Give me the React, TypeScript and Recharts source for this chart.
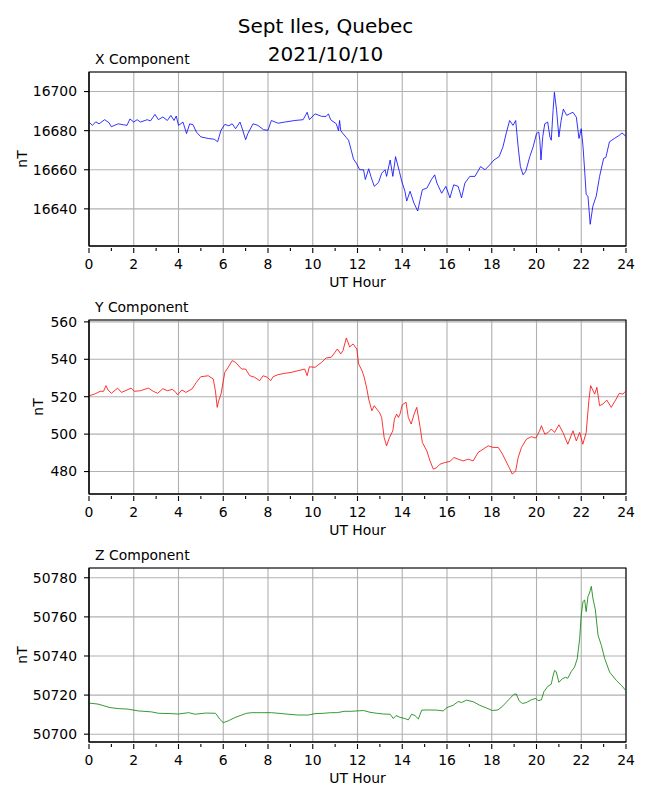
import React from 'react'
import { LineChart, Line, XAxis, YAxis, CartesianGrid, ReferenceArea } from 'recharts'

// X component (nT) vs UT hour
const xHours = [
  0, 0.15, 0.3, 0.45, 0.7, 0.9, 1.0, 1.3, 1.55, 1.7, 1.83, 2.0, 2.15, 2.3, 2.6, 2.75, 2.95, 3.1, 3.3, 3.5,
  3.66, 3.8, 3.9, 4.0, 4.2, 4.36, 4.5, 4.65, 4.8, 5.0, 5.33, 5.6, 5.75, 5.9, 6.07, 6.25, 6.4, 6.55, 6.75, 6.85,
  7.0, 7.1, 7.33, 7.55, 7.8, 8.0, 8.15, 8.45, 8.75, 9.2, 9.57, 9.75, 9.85, 10.1, 10.4, 10.6, 10.7, 10.8, 11.05, 11.15,
  11.2, 11.25, 11.35, 11.5, 11.6, 11.72, 11.82, 11.95, 12.1, 12.27, 12.35, 12.5, 12.6, 12.75, 12.94, 13.08, 13.23, 13.3, 13.46, 13.58,
  13.7, 13.87, 13.98, 14.12, 14.2, 14.35, 14.52, 14.69, 14.8, 14.9, 15.1, 15.3, 15.45, 15.55, 15.76, 15.95, 16.13, 16.3, 16.5, 16.65,
  16.8, 17.02, 17.25, 17.5, 17.7, 17.91, 18.1, 18.33, 18.5, 18.66, 18.8, 18.95, 19.07, 19.18, 19.28, 19.4, 19.52, 19.7, 19.85, 20.0,
  20.1, 20.15, 20.2, 20.28, 20.37, 20.5, 20.6, 20.66, 20.74, 20.8, 20.9, 21.0, 21.1, 21.2, 21.35, 21.48, 21.63, 21.78, 21.9, 22.0,
  22.08, 22.15, 22.22, 22.3, 22.4, 22.52, 22.67, 22.82, 23.0, 23.1, 23.26, 23.48, 23.7, 23.82, 24.0
]
const xValues = [
  16684.4, 16682.7, 16684.5, 16683.5, 16685.6, 16684, 16682, 16683.5, 16683, 16682.7, 16686, 16684.4, 16685.6, 16684.4, 16685.6, 16685, 16688.3, 16685.6, 16687, 16685.2,
  16687.8, 16685.2, 16687.5, 16682.7, 16684.4, 16678.5, 16683.5, 16683, 16679.3, 16676.8, 16676, 16675.6, 16674.3, 16680.2, 16683.2, 16682.5, 16683.5, 16681, 16684.4, 16681,
  16675.4, 16678.5, 16683.5, 16682.7, 16680.5, 16680.2, 16685.2, 16683.8, 16684.4, 16685.2, 16685.6, 16689.4, 16685.6, 16688.6, 16687.3, 16687.3, 16688.6, 16685.6, 16683.5, 16680,
  16685.2, 16680, 16678.5, 16676.5, 16675.1, 16670, 16665.5, 16663.3, 16660, 16660, 16655, 16660.5, 16656.5, 16651.5, 16653.5, 16658.2, 16660, 16656.6, 16665, 16656.6,
  16666.7, 16659.2, 16654, 16649, 16644, 16649, 16643, 16638.9, 16644.7, 16649.8, 16650.6, 16654.9, 16657.4, 16653.2, 16648, 16651.5, 16645.6, 16652.3, 16651.5, 16645.6,
  16653.2, 16656.6, 16656.6, 16661.6, 16660, 16662.5, 16665, 16666.7, 16671.7, 16679.3, 16685.2, 16682.7, 16685.2, 16671.7, 16661.6, 16657.4, 16659.2, 16666.7, 16671.7, 16678.5,
  16679.3, 16675, 16665, 16677, 16683.5, 16684.4, 16676.8, 16675.1, 16690.2, 16699.6, 16690.2, 16676.8, 16685.2, 16691, 16687.8, 16688.6, 16689.4, 16686.9, 16676, 16681,
  16671.7, 16660, 16647.3, 16646.5, 16632.1, 16641.4, 16646.5, 16656.6, 16665.8, 16666.3, 16674.3, 16676, 16677.6, 16678.8, 16677.1
]

// Y component (nT)
const yHours = [
  0, 0.25, 0.5, 0.65, 0.76, 0.85, 1.0, 1.28, 1.45, 1.7, 1.88, 2.03, 2.3, 2.65, 2.87, 3.07, 3.3, 3.5, 3.72, 3.84,
  3.96, 4.15, 4.33, 4.6, 4.8, 5.0, 5.33, 5.55, 5.65, 5.73, 5.8, 5.9, 6.07, 6.22, 6.4, 6.55, 6.82, 7.0, 7.18, 7.4,
  7.63, 7.78, 7.97, 8.12, 8.23, 8.45, 8.75, 9.04, 9.34, 9.64, 9.75, 9.85, 10.1, 10.4, 10.6, 10.83, 11.1, 11.25, 11.35, 11.5,
  11.65, 11.8, 11.97, 12.05, 12.2, 12.3, 12.42, 12.5, 12.64, 12.75, 12.86, 12.98, 13.08, 13.19, 13.3, 13.43, 13.58, 13.65, 13.75, 13.83,
  13.9, 14.0, 14.17, 14.27, 14.4, 14.53, 14.65, 14.8, 14.9, 15.1, 15.24, 15.39, 15.54, 15.68, 15.9, 16.13, 16.31, 16.5, 16.72, 16.95,
  17.17, 17.39, 17.62, 17.84, 18.06, 18.29, 18.48, 18.63, 18.78, 18.92, 19.07, 19.18, 19.33, 19.55, 19.77, 19.97, 20.14, 20.22, 20.37, 20.52,
  20.66, 20.81, 21.0, 21.18, 21.4, 21.63, 21.78, 21.93, 22.07, 22.22, 22.34, 22.42, 22.6, 22.7, 22.82, 22.97, 23.14, 23.34, 23.56, 23.7,
  23.86, 24.0
]
const yValues = [
  520.5, 521.4, 522.9, 522.9, 525.9, 523.6, 521.8, 524.6, 522.3, 523.6, 524.6, 522.9, 523.2, 524.6, 522.9, 521.8, 524.3, 523.2, 523.9, 522.9,
  521, 523.6, 522.3, 524.1, 527.7, 530.7, 531.2, 529.5, 523.2, 514.3, 517.9, 521.4, 533, 535.7, 539.3, 538.4, 534.8, 534.8, 531.25, 530.4,
  528.6, 531.2, 530.4, 528.6, 530.7, 531.8, 532.5, 533, 533.9, 534.8, 531.25, 536, 535.7, 538.4, 540.7, 541.1, 545.5, 542.9, 544.6, 551.4,
  546.6, 548.2, 545.5, 537.5, 534, 530.4, 524.1, 518.75, 512.5, 515.2, 513.4, 511.6, 508.9, 498.2, 493.75, 498.2, 501.8, 508, 510.7, 508.9,
  510.7, 515.7, 517, 508.9, 505.4, 510.7, 514.3, 503.6, 495.5, 491, 485.7, 481.25, 482.1, 483.9, 484.8, 485.4, 487.5, 486.6, 485.7, 486.6,
  485.7, 490.2, 492, 493.75, 492.9, 492.9, 489.3, 485.7, 482.1, 478.6, 480.4, 487.5, 492.9, 497.3, 498.6, 497.9, 501.8, 504.5, 500, 500.9,
  502.7, 500.9, 505, 500.9, 494.6, 501.8, 496.4, 500.9, 494.6, 500.9, 517.9, 525.9, 521.4, 525, 515.2, 516.1, 518.2, 514.3, 518.75, 521.8,
  521.4, 523.2
]

// Z component (nT)
const zHours = [
  0, 0.4, 0.94, 1.3, 1.75, 2.2, 2.8, 3.1, 3.7, 4.0, 4.45, 4.75, 5.2, 5.65, 5.75, 5.85, 6.0, 6.22, 6.52, 6.82,
  7.05, 7.27, 7.7, 8.15, 8.45, 8.9, 9.35, 9.8, 10.1, 10.5, 10.8, 11.1, 11.4, 11.7, 12.0, 12.27, 12.56, 12.86, 13.16, 13.46,
  13.6, 13.72, 13.9, 14.12, 14.27, 14.42, 14.57, 14.72, 14.87, 15.16, 15.54, 15.83, 16.0, 16.28, 16.5, 16.65, 16.87, 17.17, 17.46, 17.76,
  18.03, 18.28, 18.5, 18.78, 19.0, 19.1, 19.22, 19.37, 19.55, 19.77, 19.97, 20.07, 20.22, 20.33, 20.5, 20.66, 20.74, 20.81, 20.88, 21.0,
  21.15, 21.3, 21.4, 21.55, 21.7, 21.82, 21.93, 22.0, 22.08, 22.15, 22.22, 22.3, 22.37, 22.45, 22.52, 22.63, 22.75, 22.9, 23.05, 23.27,
  23.57, 23.8, 24.0
]
const zValues = [
  50715.9, 50715.4, 50713.6, 50713.1, 50712.8, 50711.9, 50711.4, 50710.7, 50710.5, 50710.3, 50711, 50710.2, 50710.8, 50710.7, 50709.3, 50707.6, 50705.9, 50706.8, 50708.5, 50709.8,
  50710.7, 50711, 50711, 50711, 50710.7, 50710.2, 50709.8, 50709.8, 50710.5, 50710.7, 50711, 50711, 50711.7, 50711.7, 50711.9, 50712.1, 50711.2, 50710.7, 50710.3, 50710.2,
  50708, 50709.5, 50708.6, 50708, 50707.3, 50710.2, 50709.5, 50707.8, 50712.3, 50712.4, 50712.3, 50711.9, 50713.6, 50714.8, 50716.7, 50716.2, 50717.4, 50716.6, 50714.8, 50713.4,
  50712.1, 50712.4, 50714.5, 50717.9, 50720.5, 50720.5, 50717.1, 50715.7, 50716.2, 50717.6, 50718.3, 50717.1, 50717.6, 50721.7, 50724.4, 50725.6, 50729.9, 50732.6, 50732, 50726.5,
  50728.3, 50729.1, 50728.6, 50732, 50734.3, 50738.6, 50748.9, 50761, 50767.8, 50768.7, 50762.7, 50770.4, 50772.2, 50775.6, 50769.6, 50763.6, 50750.6, 50745.4, 50738.6, 50731.7,
  50727.5, 50724.9, 50722.2
]

const hourTicks = [0, 1, 2, 3, 4, 5, 6, 7, 8, 9, 10, 11, 12, 13, 14, 15, 16, 17, 18, 19, 20, 21, 22, 23, 24]
const majorHours = [0, 2, 4, 6, 8, 10, 12, 14, 16, 18, 20, 22, 24]
const xTicks = [16640, 16660, 16680, 16700]
const yTicks = [480, 500, 520, 540, 560]
const zTicks = [50700, 50720, 50740, 50760, 50780]

const FONT = 13.9
const PLOT_H = 174

function HourTick(props: any) {
  const { x, y, payload } = props
  const major = payload.value % 2 === 0
  return (
    <g>
      <line x1={x} x2={x} y1={y} y2={y + (major ? 5 : 3)} stroke="#000" strokeWidth={1.1} />
      {major && (
        <text x={x} y={y + 20.5} textAnchor="middle" fontSize={FONT} fill="#000">
          {payload.value}
        </text>
      )}
    </g>
  )
}

function Panel({ hours, values, color, ticks, domain, top, labelX }: any) {
  const data = hours.map((h: number, i: number) => ({ h, v: values[i] }))
  return (
    <div style={{ position: 'absolute', left: 0, top: top - 5 }}>
      <LineChart
        width={650}
        height={PLOT_H + 50}
        data={data}
        margin={{ top: 5, right: 24, bottom: 0, left: 0 }}
      >
        <CartesianGrid stroke="#b0b0b0" strokeWidth={1.1} verticalValues={majorHours} />
        <XAxis
          dataKey="h"
          type="number"
          domain={[0, 24]}
          ticks={hourTicks}
          interval={0}
          height={45}
          tickSize={0}
          tickLine={false}
          axisLine={{ stroke: '#000', strokeWidth: 1.1 }}
          tick={(p: any) => <HourTick {...p} />}
          label={{ value: 'UT Hour', position: 'insideBottom', offset: 4, fill: '#000', fontSize: FONT }}
        />
        <YAxis
          type="number"
          domain={domain}
          ticks={ticks}
          interval={0}
          width={89}
          allowDataOverflow
          tickSize={5}
          tickMargin={7}
          tickLine={{ stroke: '#000', strokeWidth: 1.1 }}
          axisLine={{ stroke: '#000', strokeWidth: 1.1 }}
          tick={{ fill: '#000', fontSize: FONT }}
          label={{
            value: 'nT',
            content: () => (
              <text
                x={labelX}
                y={5 + PLOT_H / 2}
                transform={`rotate(-90 ${labelX} ${5 + PLOT_H / 2})`}
                textAnchor="middle"
                fontSize={FONT}
                fill="#000"
              >
                nT
              </text>
            )
          }}
        />
        <ReferenceArea x1={0} x2={24} y1={domain[0]} y2={domain[1]} fill="none" stroke="#000" strokeWidth={1.1} />
        <Line
          type="linear"
          dataKey="v"
          stroke={color}
          strokeWidth={0.8}
          dot={false}
          isAnimationActive={false}
        />
      </LineChart>
    </div>
  )
}

export default function App() {
  return (
    <div
      style={{
        position: 'absolute',
        left: 0,
        top: 0,
        width: 650,
        height: 800,
        background: '#fff',
        fontFamily: "'DejaVu Sans', sans-serif"
      }}
    >
      <svg width={650} height={800} style={{ position: 'absolute', left: 0, top: 0 }}>
        <text x={325.5} y={33.3} textAnchor="middle" fontSize={20} fill="#000">Sept Iles, Quebec</text>
        <text x={325.5} y={60.7} textAnchor="middle" fontSize={20} fill="#000">2021/10/10</text>
        <text x={95} y={64} fontSize={FONT} fill="#000">X Component</text>
        <text x={95} y={311.7} fontSize={FONT} fill="#000">Y Component</text>
        <text x={95} y={560} fontSize={FONT} fill="#000">Z Component</text>
      </svg>
      <Panel hours={xHours} values={xValues} color="#0000ff" ticks={xTicks} domain={[16621, 16710]} top={72} labelX={27} />
      <Panel hours={yHours} values={yValues} color="#ff0000" ticks={yTicks} domain={[468, 561]} top={320} labelX={43} />
      <Panel hours={zHours} values={zValues} color="#008000" ticks={zTicks} domain={[50696, 50785]} top={568} labelX={27} />
    </div>
  )
}
